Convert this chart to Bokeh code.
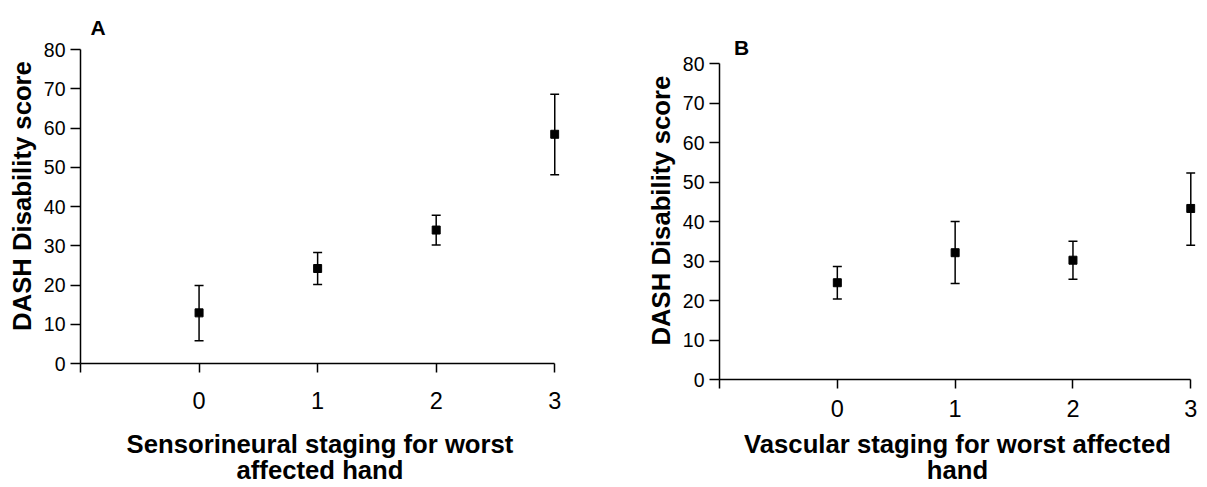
from bokeh.plotting import figure
from bokeh.models import ColumnDataSource, Whisker, TeeHead, FixedTicker, Range1d, Title
from bokeh.layouts import row
from bokeh.embed import file_html
from bokeh.resources import INLINE

# ---------------- data ----------------
stages = [0, 1, 2, 3]
x_ticks = [-1, 0, 1, 2, 3]
x_tick_labels = ["", "0", "1", "2", "3"]
y_ticks = [0, 10, 20, 30, 40, 50, 60, 70, 80]

sens_mean = [12.9, 24.2, 34.0, 58.4]
sens_upper = [19.9, 28.3, 37.8, 68.6]
sens_lower = [5.8, 20.1, 30.2, 48.1]

vasc_mean = [24.5, 32.1, 30.2, 43.3]
vasc_upper = [28.6, 40.0, 35.0, 52.3]
vasc_lower = [20.4, 24.3, 25.4, 34.0]

y_title = "DASH Disability score"
sens_title = "Sensorineural staging for worst\naffected hand"
vasc_title = "Vascular staging for worst affected\nhand"

FONT = "Liberation Sans"
X0, X1 = -1, 3.04
Y0, Y1 = 0, 80
H = 487


def make_panel(letter, x_title, mean, upper, lower, g):
    p = figure(width=g["width"], height=H, title=None,
               x_range=Range1d(X0, X1), y_range=Range1d(Y0, Y1),
               output_backend="svg", toolbar_location=None,
               min_border_left=g["bl"], min_border_top=g["bt"],
               min_border_right=g["width"] - g["bl"] - g["fw"],
               min_border_bottom=H - g["bt"] - g["fh"])
    p.frame_align = False
    p.outline_line_color = None
    p.grid.visible = False
    p.background_fill_color = "white"
    p.border_fill_color = "white"

    xa = p.xaxis[0]
    xa.ticker = FixedTicker(ticks=x_ticks)
    xa.major_label_overrides = {t: l for t, l in zip(x_ticks, x_tick_labels)}
    xa.bounds = (-1, 3)
    xa.minor_tick_line_color = None
    xa.major_tick_in = 0
    xa.major_tick_out = 9
    xa.axis_line_width = 1.5
    xa.major_tick_line_width = 1.5
    xa.axis_line_color = "black"
    xa.major_tick_line_color = "black"
    xa.major_label_text_font = FONT
    xa.major_label_text_font_size = "23.5px"
    xa.major_label_text_color = "black"
    xa.major_label_standoff = g["xso"]
    xa.axis_label = x_title
    xa.axis_label_text_font = FONT
    xa.axis_label_text_font_style = "bold"
    xa.axis_label_text_font_size = "25.7px"
    xa.axis_label_text_color = "black"
    xa.axis_label_text_line_height = 0.95
    xa.axis_label_standoff = g["xl_so"]

    ya = p.yaxis[0]
    ya.ticker = FixedTicker(ticks=y_ticks)
    ya.bounds = (0, 80)
    ya.minor_tick_line_color = None
    ya.major_tick_in = 0
    ya.major_tick_out = 10
    ya.axis_line_width = 1.5
    ya.major_tick_line_width = 1.5
    ya.axis_line_color = "black"
    ya.major_tick_line_color = "black"
    ya.major_label_text_font = FONT
    ya.major_label_text_font_size = "19.5px"
    ya.major_label_text_color = "black"
    ya.major_label_standoff = 5

    src = ColumnDataSource(dict(stage=stages, mean=mean, upper=upper, lower=lower))
    p.add_layout(Whisker(source=src, base="stage", upper="upper", lower="lower",
                         line_color="black", line_width=1.5,
                         upper_head=TeeHead(size=9, line_color="black", line_width=1.5),
                         lower_head=TeeHead(size=9, line_color="black", line_width=1.5)))
    p.scatter("stage", "mean", source=src, marker="square", size=8,
              fill_color="black", line_color="black")

    # panel letter (above)
    p.add_layout(Title(text=letter, align="left", offset=g["letter_off"],
                       standoff=g["letter_so"], text_font=FONT, text_font_style="bold",
                       text_font_size="21px", text_color="black"), "above")
    # y title (left)
    p.add_layout(Title(text=y_title, align="left", offset=g["yt_off"], standoff=g["yt_so"],
                       text_font=FONT, text_font_style="bold", text_font_size="25.7px",
                       text_color="black"), "left")
    return p


geom_a = dict(width=600, bl=79, bt=49, fw=480, fh=315, xso=19, xl_so=18,
              letter_off=10, letter_so=21, yt_off=32.6, yt_so=10)
geom_b = dict(width=607, bl=119, bt=63, fw=476, fh=316, xso=11, xl_so=10,
              letter_off=14.5, letter_so=9, yt_off=34, yt_so=10)

pa = make_panel("A", sens_title, sens_mean, sens_upper, sens_lower, geom_a)
pb = make_panel("B", vasc_title, vasc_mean, vasc_upper, vasc_lower, geom_b)

layout = row(pa, pb)
open("out.html", "w").write(file_html(layout, INLINE))
